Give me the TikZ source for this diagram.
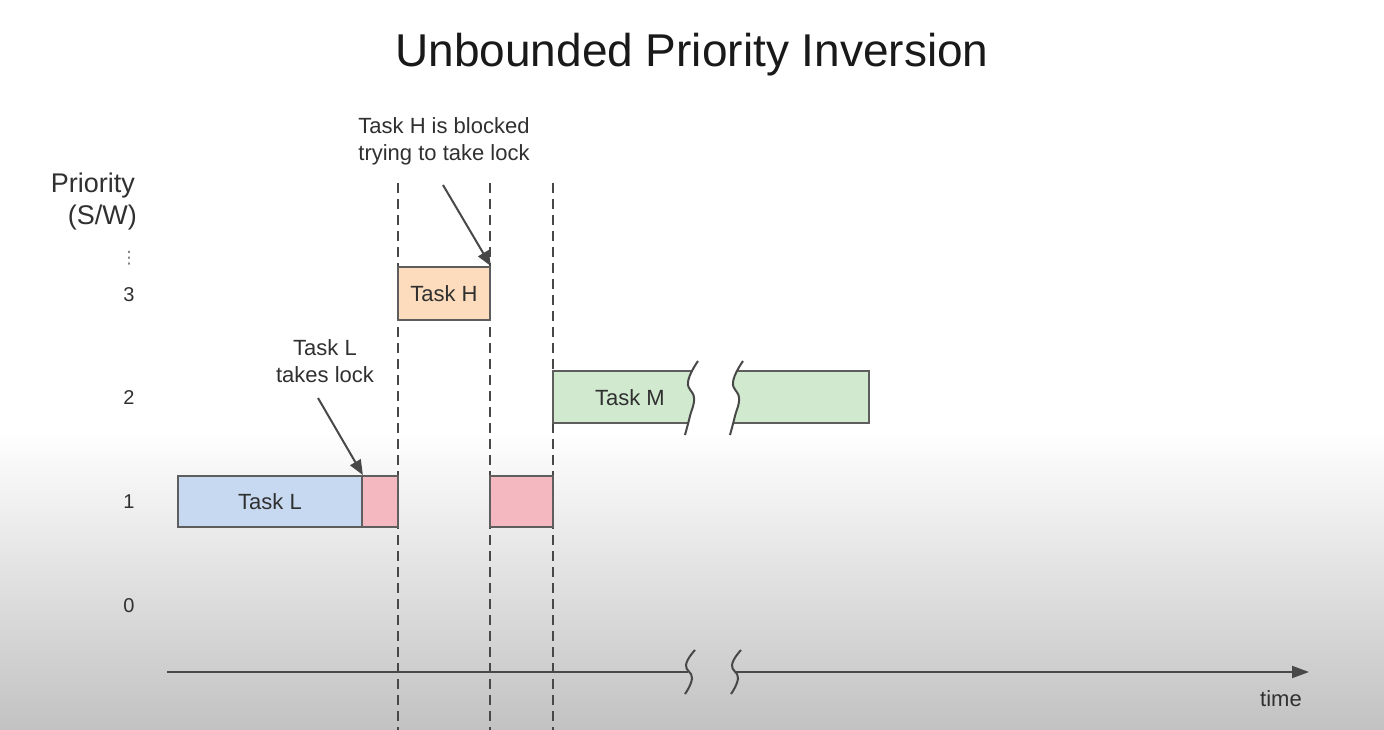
\documentclass[tikz,border=0pt]{standalone}
\usepackage{fontspec}
\setmainfont{Liberation Sans}
\newfontfamily\djv{DejaVu Sans}
\usetikzlibrary{arrows.meta}
\definecolor{ink}{HTML}{303030}
\definecolor{edge}{HTML}{5E5E5E}
\definecolor{lnc}{HTML}{484848}
\definecolor{cL}{HTML}{C6D9F0}
\definecolor{cR}{HTML}{F4B8C1}
\definecolor{cH}{HTML}{FCDCBD}
\definecolor{cM}{HTML}{D0E9CF}
\definecolor{bgb}{HTML}{C2C2C2}
\tikzset{
  lbl/.style={text=ink, font=\fontsize{22}{27}\selectfont, inner sep=0pt, align=center},
  num/.style={text=ink, font=\fontsize{20}{24}\selectfont, inner sep=0pt},
  taskbox/.style={draw=edge, line width=1.8pt, text=ink, font=\fontsize{22}{27}\selectfont, inner sep=0pt},
  guide/.style={draw=lnc, line width=2pt, dash pattern=on 10pt off 6pt},
  callout/.style={draw=lnc, line width=2pt, -{Triangle[length=15pt,width=12pt]}},
  brk/.style={draw=lnc, line width=2pt},
}
\begin{document}
\begin{tikzpicture}[x=1pt,y=-1pt]
\useasboundingbox (0,0) rectangle (1384,730);
\fill[white] (0,0) rectangle (1384,730);
\shade[top color=white, bottom color=bgb] (0,430) rectangle (1384,730);

% title
\node[text=black!90, font=\fontsize{46}{50}\selectfont, inner sep=0pt] (title) at (692,55) {Unbounded Priority Inversion};

% y axis labels
\node[text=ink, font=\fontsize{27}{32}\selectfont, inner sep=0pt, anchor=east] (pr) at (135,186) {Priority};
\node[text=ink, font=\fontsize{27}{32}\selectfont, inner sep=0pt, anchor=east] (sw) at (137,218) {(S/W)};
\node[text=black!55, inner sep=0pt, font=\djv\fontsize{17}{17}\selectfont] (dots) at (129,258) {⋮};
\node[num] (p3) at (129,295) {3};
\node[num] (p2) at (129,398) {2};
\node[num] (p1) at (129,502) {1};
\node[num] (p0) at (129,606) {0};

% dashed guides
\coordinate (g1t) at (398,183); \coordinate (g1b) at (398,730);
\coordinate (g2t) at (490,183); \coordinate (g2b) at (490,730);
\coordinate (g3t) at (553,183); \coordinate (g3b) at (553,730);
\draw[guide] (g1t) -- (g1b);
\draw[guide] (g2t) -- (g2b);
\draw[guide] (g3t) -- (g3b);

% task boxes
\node[taskbox, fill=cL, minimum width=184pt, minimum height=51pt] (L) at (270,501.5) {Task L};
\node[taskbox, fill=cR, minimum width=36pt, minimum height=51pt] (R1) at (380,501.5) {};
\node[taskbox, fill=cR, minimum width=63pt, minimum height=51pt] (R2) at (521.5,501.5) {};
\node[taskbox, fill=cH, minimum width=92pt, minimum height=53pt] (H) at (444,293.5) {Task H};

% Task M, broken
\begin{scope}
  \clip (540,361) -- plot[smooth, tension=0.8] coordinates {(698,361) (688,382) (694,398) (690,416) (685,435)} -- (540,435) -- cycle;
  \filldraw[fill=cM, draw=edge, line width=1.8pt] (553,371) rectangle (760,423);
\end{scope}
\begin{scope}
  \clip (880,361) -- plot[smooth, tension=0.8] coordinates {(743,361) (733,382) (739,398) (735,416) (730,435)} -- (880,435) -- cycle;
  \filldraw[fill=cM, draw=edge, line width=1.8pt] (700,371) rectangle (869,423);
\end{scope}
\draw[brk] plot[smooth, tension=0.8] coordinates {(698,361) (688,382) (694,398) (690,416) (685,435)};
\draw[brk] plot[smooth, tension=0.8] coordinates {(743,361) (733,382) (739,398) (735,416) (730,435)};
\node[text=ink, font=\fontsize{22}{27}\selectfont, inner sep=0pt] (M) at (630,398) {Task M};

% time axis
\coordinate (ax0) at (167,672);
\coordinate (axb1) at (688,672);
\coordinate (axb2) at (735,672);
\coordinate (ax1) at (1309,672);
\draw[brk] (ax0) -- (axb1);
\draw[brk, -{Triangle[length=17pt,width=12pt]}] (axb2) -- (ax1);
\draw[brk] plot[smooth, tension=0.8] coordinates {(695,650) (686,665) (692,678) (685,694)};
\draw[brk] plot[smooth, tension=0.8] coordinates {(741,650) (732,665) (738,678) (731,694)};
\node[lbl] (time) at (1281,699) {time};

% callouts
\node[lbl] (cl) at (325,361) {Task L\\takes lock};
\coordinate (clf) at (318,398);
\draw[callout] (clf) -- (L.north east);
\node[lbl] (ch) at (444,141) {Task H is blocked\\trying to take lock};
\coordinate (chf) at (443,185);
\draw[callout] (chf) -- (H.north east);
\end{tikzpicture}
\end{document}
